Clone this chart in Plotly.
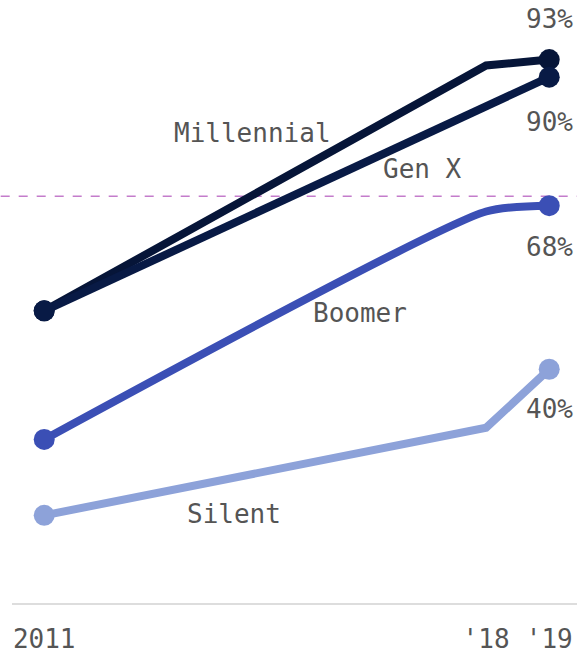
import plotly.graph_objects as go

# Share owning a smartphone, by generation (%)
years = [2011, 2018, 2019]
tick_text = ["2011", "'18", "'19"]

millennial = [50, 92, 93]
gen_x = [50, 85, 90]
boomer = [28, 67, 68]
silent = [15, 30, 40]

reference_level = 69.6

series = [
    ("Millennial", millennial, "#061538", "linear"),
    ("Gen X", gen_x, "#081a45", "linear"),
    ("Boomer", boomer, "#3b4fb5", "spline"),
    ("Silent", silent, "#8da2d9", "linear"),
]

# name label positions (year, value)
name_pos = {
    "Millennial": (2014.3, 80.4),
    "Gen X": (2017.0, 74.2),
    "Boomer": (2016.0, 49.6),
    "Silent": (2014.0, 15.2),
}

font_family = "DejaVu Sans Mono, monospace"
text_color = "#555555"
font_size = 26

fig = go.Figure()

fig.add_shape(
    type="line", xref="paper", yref="y",
    x0=-0.02, x1=1.0, y0=reference_level, y1=reference_level,
    line=dict(color="#c47ccb", width=1.5, dash="dash"),
    layer="below",
)

for name, vals, color, shape in series:
    fig.add_trace(go.Scatter(
        x=years, y=vals, mode="lines",
        line=dict(color=color, width=8, shape=shape, smoothing=0.6),
        hoverinfo="skip", showlegend=False,
    ))
    fig.add_trace(go.Scatter(
        x=[years[0], years[-1]], y=[vals[0], vals[-1]], mode="markers",
        marker=dict(color=color, size=21),
        hoverinfo="skip", showlegend=False,
    ))
    nx, ny = name_pos[name]
    fig.add_annotation(
        x=nx, y=ny, text=name, showarrow=False,
        font=dict(family=font_family, size=font_size, color=text_color),
    )

# end-value labels
end_labels = [
    (millennial[-1], 100.0),
    (gen_x[-1], 82.4),
    (boomer[-1], 61.0),
    (silent[-1], 33.2),
]
for val, ypos in end_labels:
    fig.add_annotation(
        x=2019, y=ypos, text=f"{val}%", showarrow=False,
        xanchor="center",
        font=dict(family=font_family, size=font_size, color=text_color),
    )

fig.update_layout(
    width=577, height=655,
    margin=dict(l=12, r=0, t=0, b=52),
    plot_bgcolor="white", paper_bgcolor="white",
    xaxis=dict(
        range=[2010.49, 2019.44],
        tickmode="array", tickvals=years, ticktext=tick_text,
        showgrid=False, zeroline=False,
        showline=True, linecolor="#dddddd", linewidth=2,
        ticks="", ticklabelstandoff=12,
        tickfont=dict(family=font_family, size=26, color=text_color),
    ),
    yaxis=dict(
        range=[0, 103.2], visible=False, showgrid=False, zeroline=False,
    ),
)

fig.write_html("out.html")
